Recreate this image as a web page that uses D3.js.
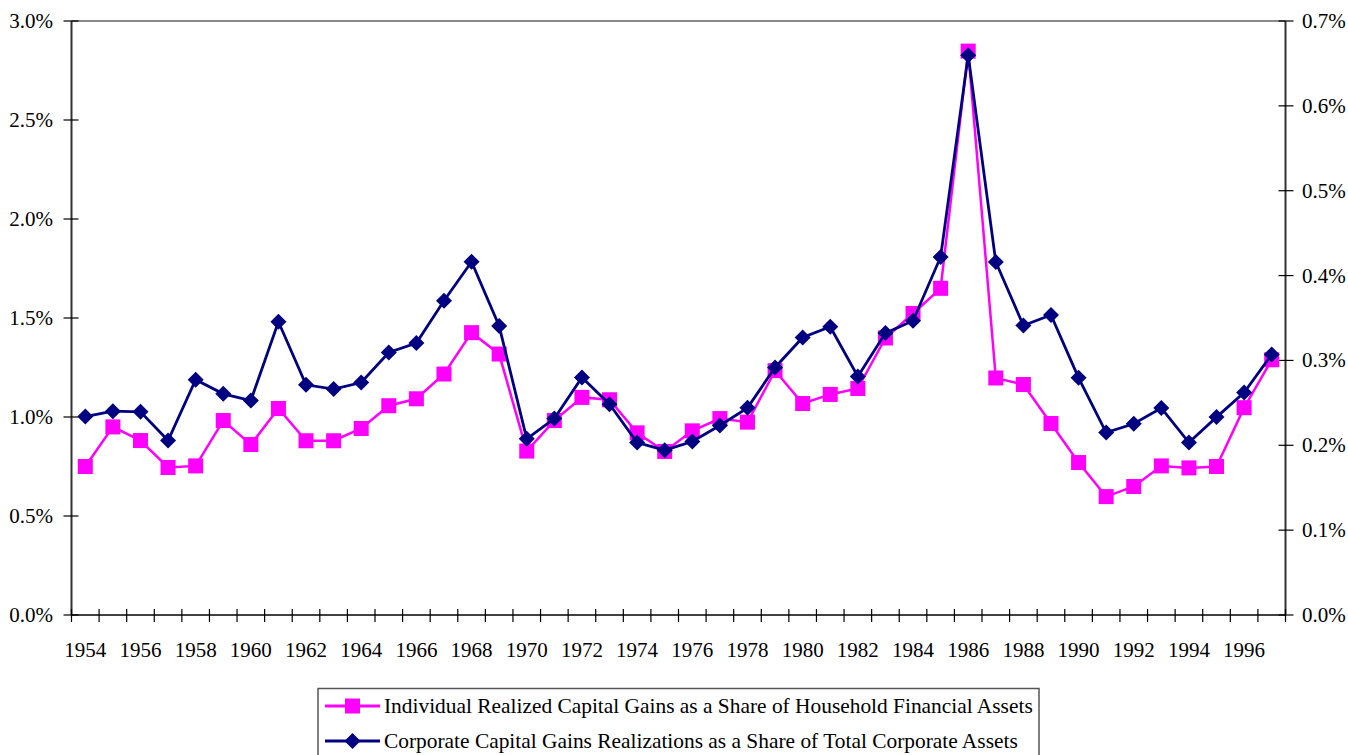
<!DOCTYPE html>
<html>
<head>
<meta charset="utf-8">
<script src="https://cdn.jsdelivr.net/npm/d3@7"></script>
<style>
html,body{margin:0;padding:0;background:#fff;}
svg{display:block;}
text{font-family:"Liberation Serif","Times New Roman",serif;}
</style>
</head>
<body>
<svg id="chart" width="1348" height="755"></svg>
<script>
const years = d3.range(1954, 1998);
const individualShare = [0.750,0.950,0.881,0.745,0.753,0.982,0.861,1.043,0.880,0.880,0.942,1.057,1.092,1.217,1.426,1.318,
  0.828,0.982,1.099,1.087,0.920,0.826,0.930,0.992,0.974,1.234,1.068,1.114,1.144,1.399,1.523,1.650,2.848,
  1.197,1.164,0.967,0.770,0.598,0.649,0.753,0.743,0.750,1.047,1.289];
const corporateShare = [0.2339,0.2402,0.2394,0.2056,0.2772,0.2606,0.2527,0.3456,0.2713,0.2662,0.2740,0.3094,0.3204,0.3703,0.4163,0.3405,
  0.2076,0.2315,0.2799,0.2485,0.2032,0.1942,0.2044,0.2233,0.2441,0.2917,0.3270,0.3397,0.2810,0.3322,0.3467,0.4219,0.6596,
  0.4160,0.3412,0.3535,0.2795,0.2150,0.2253,0.2438,0.2032,0.2332,0.2622,0.3070];
const leftTicks = [0,0.5,1.0,1.5,2.0,2.5,3.0];
const rightTicks = [0,0.1,0.2,0.3,0.4,0.5,0.6,0.7];
const seriesNames = ["Individual Realized Capital Gains as a Share of Household Financial Assets",
  "Corporate Capital Gains Realizations as a Share of Total Corporate Assets"];

const svg = d3.select("#chart");
const X0 = 71.5, X1 = 1285.5, Y0 = 21, Y1 = 615;
const x = d3.scaleBand().domain(years).range([X0, X1]).padding(0);
const yL = d3.scaleLinear().domain([0, 3.0]).range([Y1, Y0]);
const yR = d3.scaleLinear().domain([0, 0.7]).range([Y1, Y0]);
const cx = d => x(d) + x.bandwidth()/2;
const FS = 21;

// top border
svg.append("line").attr("x1", X0).attr("x2", X1).attr("y1", Y0).attr("y2", Y0)
  .attr("stroke", "#888").attr("stroke-width", 2);

// left axis
const gl = svg.append("g");
gl.append("line").attr("x1", X0).attr("x2", X0).attr("y1", Y0).attr("y2", Y1).attr("stroke", "#333").attr("stroke-width", 2);
gl.selectAll(".t").data(leftTicks).join("line")
  .attr("x1", X0-8).attr("x2", X0+7).attr("y1", d=>yL(d)).attr("y2", d=>yL(d)).attr("stroke", "#000").attr("stroke-width", 1.2);
gl.selectAll("text").data(leftTicks).join("text")
  .attr("x", 53).attr("y", d=>yL(d)).attr("dy", "0.33em").attr("text-anchor", "end")
  .attr("font-size", FS).text(d=>d.toFixed(1)+"%");

// right axis
const gr = svg.append("g");
gr.append("line").attr("x1", X1).attr("x2", X1).attr("y1", Y0).attr("y2", Y1).attr("stroke", "#333").attr("stroke-width", 2);
gr.selectAll(".t").data(rightTicks).join("line")
  .attr("x1", X1-7).attr("x2", X1+8).attr("y1", d=>yR(d)).attr("y2", d=>yR(d)).attr("stroke", "#000").attr("stroke-width", 1.2);
gr.selectAll("text").data(rightTicks).join("text")
  .attr("x", 1302).attr("y", d=>yR(d)).attr("dy", "0.33em").attr("text-anchor", "start")
  .attr("font-size", FS).text(d=>d.toFixed(1)+"%");

// bottom axis
const gb = svg.append("g");
gb.append("line").attr("x1", X0).attr("x2", X1).attr("y1", Y1).attr("y2", Y1).attr("stroke", "#000").attr("stroke-width", 1.5);
const bounds = years.map(d=>x(d)).concat([X1]);
gb.selectAll(".t").data(bounds).join("line")
  .attr("x1", d=>d).attr("x2", d=>d).attr("y1", Y1-6).attr("y2", Y1+7).attr("stroke", "#000").attr("stroke-width", 1.2);
gb.selectAll("text").data(years.filter(d=>d%2===0)).join("text")
  .attr("x", d=>cx(d)).attr("y", 657).attr("text-anchor", "middle")
  .attr("font-size", FS).text(d=>d);

// lines
const pink = "#FF00FF", navy = "#000080";
const lineL = d3.line().x((d,i)=>cx(years[i])).y(d=>yL(d));
const lineR = d3.line().x((d,i)=>cx(years[i])).y(d=>yR(d));
svg.append("path").datum(individualShare).attr("d", lineL).attr("fill","none").attr("stroke", pink).attr("stroke-width", 2.5);
svg.selectAll(".sq").data(individualShare).join("rect")
  .attr("x", (d,i)=>cx(years[i])-7.5).attr("y", d=>yL(d)-7.5).attr("width",15).attr("height",15).attr("fill", pink);
svg.append("path").datum(corporateShare).attr("d", lineR).attr("fill","none").attr("stroke", navy).attr("stroke-width", 2.8);
const diamond = "M0,-8L8,0L0,8L-8,0Z";
svg.selectAll(".dm").data(corporateShare).join("path")
  .attr("d", diamond).attr("transform", (d,i)=>`translate(${cx(years[i])},${yR(d)})`).attr("fill", navy);

// legend
const lg = svg.append("g");
lg.append("rect").attr("x", 318).attr("y", 688.5).attr("width", 721).attr("height", 80)
  .attr("fill","#fff").attr("stroke","#555").attr("stroke-width",1.5);
const rows = [{name: seriesNames[0], color: pink, shape: "sq", y: 706},
              {name: seriesNames[1], color: navy, shape: "dm", y: 741}];
rows.forEach(r => {
  lg.append("line").attr("x1", 325).attr("x2", 380).attr("y1", r.y).attr("y2", r.y).attr("stroke", r.color).attr("stroke-width", 2.8);
  if (r.shape === "sq") lg.append("rect").attr("x", 345).attr("y", r.y-7.5).attr("width",15).attr("height",15).attr("fill", r.color);
  else lg.append("path").attr("d", diamond).attr("transform", `translate(352.5,${r.y})`).attr("fill", r.color);
  lg.append("text").attr("x", 384).attr("y", r.y).attr("dy","0.33em").attr("font-size", 21.4).text(r.name);
});
</script>
</body>
</html>
